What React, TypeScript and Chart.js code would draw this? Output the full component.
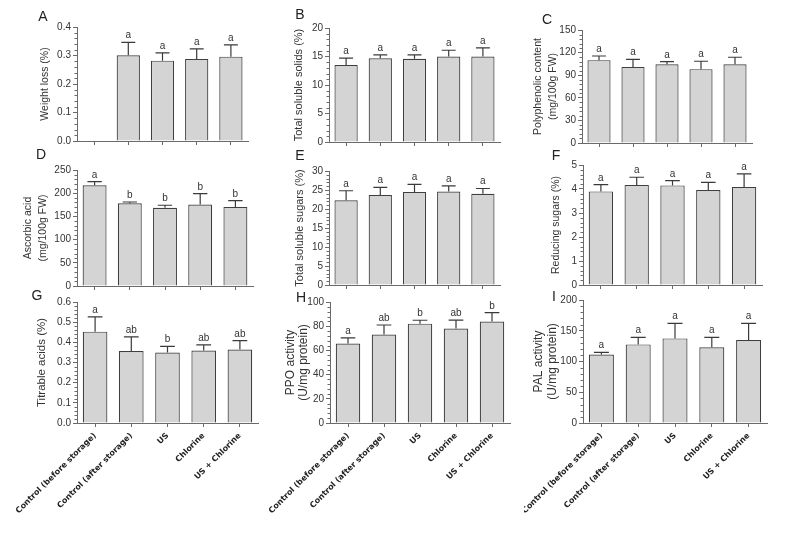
import React, { useEffect, useRef } from 'react';
import { Chart, registerables } from 'chart.js';

Chart.register(...registerables);

const categories = ['Control (before storage)', 'Control (after storage)', 'US', 'Chlorine', 'US + Chlorine'];

const weightLoss = [null, 0.301, 0.282, 0.288, 0.296];
const weightLossErr = [null, 0.045, 0.027, 0.035, 0.041];
const weightLossSig = ['', 'a', 'a', 'a', 'a'];

const solubleSolids = [13.5, 14.7, 14.6, 15.0, 15.0];
const solubleSolidsErr = [1.2, 0.6, 0.7, 1.1, 1.5];
const solubleSolidsSig = ['a', 'a', 'a', 'a', 'a'];

const polyphenol = [110, 101, 104.5, 98, 104.5];
const polyphenolErr = [5.5, 10, 3.5, 10.5, 9.3];
const polyphenolSig = ['a', 'a', 'a', 'a', 'a'];

const ascorbic = [217, 178.5, 168.5, 175.5, 170.5];
const ascorbicErr = [8, 2.5, 5.5, 23.5, 13.5];
const ascorbicSig = ['a', 'b', 'b', 'b', 'b'];

const solubleSugars = [22.3, 23.7, 24.5, 24.6, 24.0];
const solubleSugarsErr = [2.5, 2.0, 2.0, 1.5, 1.4];
const solubleSugarsSig = ['a', 'a', 'a', 'a', 'a'];

const reducingSugars = [3.9, 4.17, 4.15, 3.96, 4.08];
const reducingSugarsErr = [0.28, 0.32, 0.2, 0.32, 0.55];
const reducingSugarsSig = ['a', 'a', 'a', 'a', 'a'];

const titrable = [0.453, 0.357, 0.349, 0.359, 0.364];
const titrableErr = [0.073, 0.07, 0.031, 0.028, 0.044];
const titrableSig = ['a', 'ab', 'b', 'ab', 'ab'];

const ppo = [65.6, 73.1, 82.1, 78, 83.8];
const ppoErr = [4.7, 7.9, 2.8, 7.1, 7.4];
const ppoSig = ['a', 'ab', 'b', 'ab', 'b'];

const pal = [111.5, 127.8, 137.6, 123, 135];
const palErr = [3.3, 11.5, 24.4, 16.3, 27];
const palSig = ['a', 'a', 'a', 'a', 'a'];

// y-axis ranges: [max, major step, minor step, decimals]
const axisA = [0.4, 0.1, 0.02, 1];
const axisB = [20, 5, 1, 0];
const axisC = [150, 30, 6, 0];
const axisD = [250, 50, 10, 0];
const axisE = [30, 5, 1, 0];
const axisF = [5, 1, 0.2, 0];
const axisG = [0.6, 0.1, 0.02, 1];
const axisH = [100, 20, 4, 0];
const axisI = [200, 50, 10, 0];

const AXIS = '#6a6a6a';
const TEXT = '#333333';
const BAR_FILL = '#d4d4d4';
const BAR_EDGE = '#3f3f3f';
const TOP_PAD = 26;
const RIGHT_PAD = 8;

type Panel = {
  letter: string;
  title: string | string[];
  values: (number | null)[];
  errors: (number | null)[];
  sig: string[];
  axis: number[];
  showX: boolean;
  col: number;
  area: number[];
  letterAt: number[];
  titleX: number;
  titleSize: number;
  titleLH: number;
};

const panels: Panel[] = [
  { letter: 'A', title: 'Weight loss (%)', values: weightLoss, errors: weightLossErr, sig: weightLossSig, axis: axisA, showX: false, col: 0, area: [77, 27, 248, 141], letterAt: [43, 17], titleX: 45, titleSize: 10.5, titleLH: 1.2 },
  { letter: 'B', title: 'Total soluble solids (%)', values: solubleSolids, errors: solubleSolidsErr, sig: solubleSolidsSig, axis: axisB, showX: false, col: 262, area: [329, 28, 500, 142], letterAt: [300, 15], titleX: 299, titleSize: 11, titleLH: 1.2 },
  { letter: 'C', title: ['Polyphenolic content', '(mg/100g FW)'], values: polyphenol, errors: polyphenolErr, sig: polyphenolSig, axis: axisC, showX: false, col: 524, area: [582, 30, 752, 143], letterAt: [547, 20], titleX: 538, titleSize: 10.5, titleLH: 1.43 },
  { letter: 'D', title: ['Ascorbic acid', '(mg/100g FW)'], values: ascorbic, errors: ascorbicErr, sig: ascorbicSig, axis: axisD, showX: false, col: 0, area: [77, 170, 253, 286], letterAt: [41, 155], titleX: 28, titleSize: 10.5, titleLH: 1.42 },
  { letter: 'E', title: 'Total soluble sugars (%)', values: solubleSugars, errors: solubleSugarsErr, sig: solubleSugarsSig, axis: axisE, showX: false, col: 262, area: [329, 171, 500, 285], letterAt: [300, 156], titleX: 300, titleSize: 11, titleLH: 1.2 },
  { letter: 'F', title: 'Reducing sugars (%)', values: reducingSugars, errors: reducingSugarsErr, sig: reducingSugarsSig, axis: axisF, showX: false, col: 524, area: [583, 165, 762, 285], letterAt: [556, 156], titleX: 556, titleSize: 10.5, titleLH: 1.2 },
  { letter: 'G', title: 'Titrable acids (%)', values: titrable, errors: titrableErr, sig: titrableSig, axis: axisG, showX: true, col: 0, area: [77, 302, 258, 423], letterAt: [37, 296], titleX: 42, titleSize: 11.5, titleLH: 1.2 },
  { letter: 'H', title: ['PPO activity', '(U/mg protein)'], values: ppo, errors: ppoErr, sig: ppoSig, axis: axisH, showX: true, col: 262, area: [330, 302, 510, 423], letterAt: [301, 298], titleX: 291, titleSize: 12, titleLH: 1.05 },
  { letter: 'I', title: ['PAL activity', '(U/mg protein)'], values: pal, errors: palErr, sig: palSig, axis: axisI, showX: true, col: 524, area: [583, 300, 767, 423], letterAt: [554, 297], titleX: 539, titleSize: 12, titleLH: 1.1 },
];

function geometry(p: Panel) {
  const [l, t, r, b] = p.area;
  const bottomH = p.showX ? 110 : 20;
  const left = p.col;
  const top = t - TOP_PAD;
  const width = r + RIGHT_PAD - left;
  const height = b - t + TOP_PAD + bottomH;
  return { left, top, width, height, yWidth: l - left, bottomH };
}

function PanelChart({ p }: { p: Panel }) {
  const ref = useRef<HTMLCanvasElement>(null);
  const g = geometry(p);

  useEffect(() => {
    if (!ref.current) return;
    const [yMax, yStep, yMinor, decimals] = p.axis;
    const lineH = p.titleSize * p.titleLH;

    const overlay = {
      id: 'overlay' + p.letter,
      afterDatasetsDraw(chart: any) {
        const ctx = chart.ctx as CanvasRenderingContext2D;
        const ys = chart.scales.y;
        const area = chart.chartArea;
        ctx.save();
        // minor ticks on y axis
        ctx.strokeStyle = AXIS;
        ctx.lineWidth = 1;
        const n = Math.round(yMax / yMinor);
        const every = Math.round(yStep / yMinor);
        for (let i = 0; i <= n; i++) {
          if (i % every === 0) continue;
          const py = Math.round(ys.getPixelForValue(i * yMinor)) + 0.5;
          ctx.beginPath();
          ctx.moveTo(area.left - 2.5, py);
          ctx.lineTo(area.left, py);
          ctx.stroke();
        }
        // error bars and significance letters
        const meta = chart.getDatasetMeta(0);
        meta.data.forEach((el: any, i: number) => {
          const v = p.values[i];
          if (v == null) return;
          const e = p.errors[i] || 0;
          const x = el.x;
          const base = ys.getPixelForValue(v);
          const topY = ys.getPixelForValue(v + e);
          const cap = el.width * 0.3;
          ctx.strokeStyle = '#3a3a3a';
          ctx.lineWidth = 1.2;
          ctx.beginPath();
          ctx.moveTo(x, base);
          ctx.lineTo(x, topY);
          ctx.moveTo(x - cap, topY);
          ctx.lineTo(x + cap, topY);
          ctx.stroke();
          ctx.fillStyle = TEXT;
          ctx.font = '10px "Liberation Sans", Arial, sans-serif';
          ctx.textAlign = 'center';
          ctx.textBaseline = 'alphabetic';
          ctx.fillText(p.sig[i], x, topY - 4);
        });
        // panel letter
        ctx.fillStyle = '#222';
        ctx.font = '14px "Liberation Sans", Arial, sans-serif';
        ctx.textAlign = 'center';
        ctx.textBaseline = 'middle';
        ctx.fillText(p.letter, p.letterAt[0] - g.left, p.letterAt[1] - g.top);
        ctx.restore();
      },
    };

    const chart = new Chart(ref.current, {
      type: 'bar',
      data: {
        labels: categories,
        datasets: [
          {
            data: p.values as any,
            backgroundColor: BAR_FILL,
            borderColor: BAR_EDGE,
            borderWidth: 1.2,
            barPercentage: 0.68,
            categoryPercentage: 1,
          },
        ],
      },
      options: {
        responsive: false,
        animation: false,
        devicePixelRatio: 1,
        layout: { padding: { left: 0, top: TOP_PAD, right: RIGHT_PAD, bottom: 0 } },
        plugins: { legend: { display: false }, tooltip: { enabled: false }, title: { display: false } },
        scales: {
          x: {
            type: 'category',
            offset: true,
            grid: { display: true, drawOnChartArea: false, drawTicks: true, tickLength: 4, offset: false, color: AXIS },
            border: { display: true, color: AXIS, width: 1 },
            ticks: {
              display: p.showX,
              autoSkip: false,
              minRotation: 45,
              maxRotation: 45,
              padding: 4,
              color: '#222',
              font: { family: '"DejaVu Sans", Verdana, sans-serif', weight: 'bold', size: 8 },
            },
            afterFit: (s: any) => {
              s.height = g.bottomH;
              s.paddingLeft = 0;
              s.paddingRight = 0;
            },
          },
          y: {
            type: 'linear',
            min: 0,
            max: yMax,
            grid: { display: true, drawOnChartArea: false, drawTicks: true, tickLength: 4, color: AXIS },
            border: { display: true, color: AXIS, width: 1 },
            ticks: {
              stepSize: yStep,
              padding: 2,
              color: TEXT,
              font: { family: '"Liberation Sans", Arial, sans-serif', size: 10 },
              callback: (v: any) => Number(v).toFixed(decimals),
            },
            title: {
              display: true,
              text: p.title,
              color: TEXT,
              font: { family: '"Liberation Sans", Arial, sans-serif', size: p.titleSize, lineHeight: p.titleLH },
              padding: { top: p.titleX - g.left - lineH / 2, bottom: 0 },
            },
            afterFit: (s: any) => {
              s.width = g.yWidth;
              s.paddingTop = 0;
              s.paddingBottom = 0;
            },
          },
        },
      } as any,
      plugins: [overlay],
    });
    return () => chart.destroy();
  }, []);

  return (
    <canvas
      ref={ref}
      width={g.width}
      height={g.height}
      style={{ position: 'absolute', left: g.left, top: g.top, width: g.width, height: g.height }}
    />
  );
}

export default function App() {
  return (
    <div style={{ position: 'absolute', left: 0, top: 0, width: 787, height: 539, overflow: 'hidden', background: '#fff' }}>
      {panels.map((p) => (
        <PanelChart key={p.letter} p={p} />
      ))}
    </div>
  );
}
